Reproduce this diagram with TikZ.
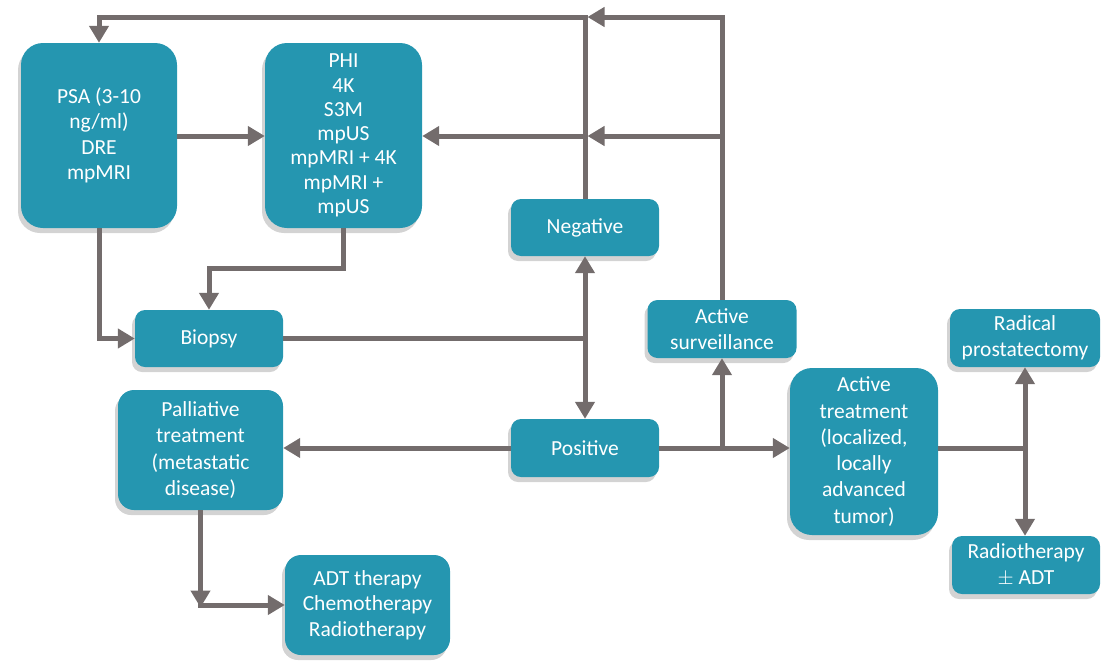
\documentclass[tikz,border=0pt]{standalone}
\usepackage{fontspec}
\setmainfont{Carlito}
\usetikzlibrary{arrows.meta,shadows}
\definecolor{boxc}{RGB}{37,150,176}
\definecolor{linec}{RGB}{115,108,108}
\tikzset{
  box/.style={draw=none, fill=boxc, text=white, align=center, inner sep=0pt,
    font=\fontsize{21.5}{25.5}\selectfont,
    drop shadow={opacity=0.35, shadow xshift=-3pt, shadow yshift=-5pt}},
  bigbox/.style={box, rounded corners=22pt},
  smallbox/.style={box, rounded corners=10pt},
  conn/.style={draw=linec, line width=5pt},
  arr/.style={conn, -{Triangle[length=17pt,width=19pt]}},
  darr/.style={conn, {Triangle[length=17pt,width=19pt]}-{Triangle[length=17pt,width=19pt]}}
}
\begin{document}
\begin{tikzpicture}[x=1pt,y=-1pt]
\useasboundingbox (0,0) rectangle (1102,667);
% nodes
\node[bigbox, minimum width=156pt, minimum height=185pt] (psa) at (99,135.5) {PSA (3-10\\ng/ml)\\DRE\\mpMRI};
\node[bigbox, minimum width=157pt, minimum height=185pt, font=\fontsize{21.5}{24.3}\selectfont] (tests) at (343.5,135.5) {PHI\\4K\\S3M\\mpUS\\mpMRI + 4K\\mpMRI +\\mpUS};
\node[smallbox, minimum width=148pt, minimum height=57pt] (neg) at (585,227.5) {Negative};
\node[smallbox, minimum width=148pt, minimum height=57pt] (biopsy) at (209,338.5) {Biopsy};
\node[smallbox, minimum width=149pt, minimum height=58pt] (as) at (722,329) {Active\\surveillance};
\node[smallbox, minimum width=150pt, minimum height=58pt] (rad) at (1025,338) {Radical\\prostatectomy};
\node[bigbox, rounded corners=16pt, minimum width=165pt, minimum height=120pt, font=\fontsize{21.5}{26.5}\selectfont] (pal) at (200.5,450) {Palliative\\treatment\\(metastatic\\disease)};
\node[smallbox, minimum width=148pt, minimum height=58pt] (pos) at (585,448) {Positive};
\node[bigbox, minimum width=148pt, minimum height=167pt, font=\fontsize{21.5}{26.3}\selectfont] (at) at (864,451.5) {Active\\treatment\\(localized,\\locally\\advanced\\tumor)};
\node[smallbox, minimum width=148pt, minimum height=58pt] (rt) at (1026,565) {Radiotherapy\\$\pm$ ADT};
\node[bigbox, rounded corners=16pt, minimum width=165pt, minimum height=100pt] (adt) at (367.5,605) {ADT therapy\\Chemotherapy\\Radiotherapy};
% junction coordinates
\coordinate (topM) at (585,17);
\coordinate (topR) at (as.north |- topM);
\coordinate (topL) at (psa.north |- topM);
\coordinate (midM) at (585,136);
\coordinate (midR) at (as.north |- midM);
\coordinate (bj) at (neg.south |- biopsy.east);
\coordinate (aj) at (as.south |- pos.east);
\coordinate (rj) at (rad.south |- pos.east);
\coordinate (tj) at (343.5,268);
\coordinate (pc) at (pal.south |- adt.west);
% connectors
\draw[arr] (neg.north) -- (topM) -- (topL) -- (psa.north);
\draw[arr] (as.north) -- (topR) -- ([xshift=2.5pt]topM);
\draw[arr] (midR) -- ([xshift=2.5pt]midM);
\draw[arr] (midM) -- (tests.east |- midM);
\draw[arr] (psa.east |- midM) -- (tests.west |- midM);
\draw[arr] (psa.south) |- (biopsy.west);
\draw[arr] (tests.south) -- (tj) -| (biopsy.north);
\draw[conn] (biopsy.east) -- (bj);
\draw[darr] (neg.south) -- (pos.north);
\draw[arr] (pos.west) -- (pal.east |- pos.west);
\draw[arr] (pos.east) -- (at.west |- pos.east);
\draw[arr] (aj) -- (as.south);
\draw[conn] (at.east |- pos.east) -- (rj);
\draw[arr] (rj) -- (rad.south);
\draw[arr] (rj) -- (rj |- rt.north);
\draw[arr] (pal.south) -- ([yshift=-2.5pt]pc);
\draw[arr] ([xshift=-2.5pt]pc) -- (adt.west);
\end{tikzpicture}
\end{document}
